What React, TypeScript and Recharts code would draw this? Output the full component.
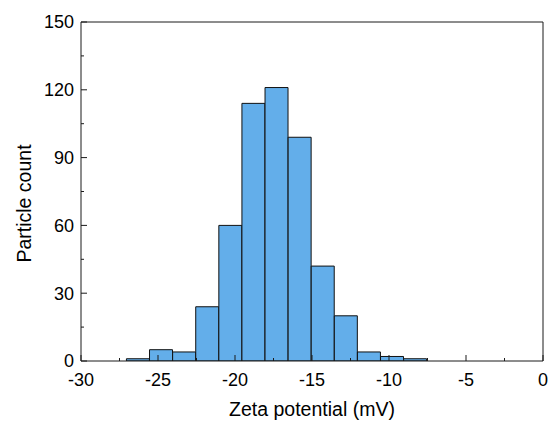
import { BarChart, Bar, XAxis, YAxis, ReferenceLine } from 'recharts'

// bin centres (mV) and particle counts per bin
const binCenters = [-26.3, -24.8, -23.3, -21.8, -20.3, -18.8, -17.3, -15.8, -14.3, -12.8, -11.3, -9.8, -8.3]
const counts = [1, 5, 4, 24, 60, 114, 121, 99, 42, 20, 4, 2, 1]

const xMajor = [-30, -25, -20, -15, -10, -5, 0]
const xMinor = [-27.5, -22.5, -17.5, -12.5, -7.5, -2.5]
const yMajor = [0, 30, 60, 90, 120, 150]
const yMinor = [15, 45, 75, 105, 135]

const data = binCenters.map((zeta, i) => ({ zeta, count: counts[i] }))

const FONT = 'Arial, "Liberation Sans", Helvetica, sans-serif'
const INK = '#1a1a1a'

const XTick = (props: any) => {
  const { x, y, payload } = props
  const major = xMajor.includes(payload.value)
  return (
    <g>
      <line x1={x} x2={x} y1={y} y2={y - (major ? 6 : 3)} stroke={INK} strokeWidth={1} />
      {major && (
        <text x={x} y={y + 25} textAnchor="middle" fontSize={18} fill="#000" fontFamily={FONT}>
          {payload.value}
        </text>
      )}
    </g>
  )
}

const YTick = (props: any) => {
  const { x, y, payload } = props
  const major = yMajor.includes(payload.value)
  return (
    <g>
      <line x1={x} x2={x + (major ? 6 : 3)} y1={y} y2={y} stroke={INK} strokeWidth={1} />
      {major && (
        <text x={x - 7} y={y} dy="0.36em" textAnchor="end" fontSize={18} fill="#000" fontFamily={FONT}>
          {payload.value}
        </text>
      )}
    </g>
  )
}

const YTitle = (props: any) => {
  const vb = props.viewBox || { x: 0, y: 0, height: 0 }
  const cx = vb.x + 31
  const cy = vb.y + vb.height / 2 + 12
  return (
    <text x={cx} y={cy} transform={`rotate(-90, ${cx}, ${cy})`} textAnchor="middle" fontSize={19.5} fill="#000" fontFamily={FONT}>
      Particle count
    </text>
  )
}

const XTitle = (props: any) => {
  const vb = props.viewBox || { x: 0, y: 0, width: 0 }
  return (
    <text x={vb.x + vb.width / 2} y={vb.y + 55} textAnchor="middle" fontSize={19.5} fill="#000" fontFamily={FONT}>
      Zeta potential (mV)
    </text>
  )
}

export default function App() {
  return (
    <div style={{ position: 'absolute', left: 0, top: 0, width: 553, height: 426, background: '#fff' }}>
      <BarChart
        width={553}
        height={426}
        data={data}
        margin={{ top: 22, right: 10, left: 0, bottom: 0 }}
        barCategoryGap={0}
        barGap={0}
      >
        <XAxis
          dataKey="zeta"
          type="number"
          domain={[-30, 0]}
          ticks={[...xMajor, ...xMinor]}
          interval={0}
          allowDataOverflow
          height={65}
          tickSize={0}
          tickMargin={0}
          tickLine={false}
          tick={<XTick />}
          axisLine={{ stroke: INK, strokeWidth: 1 }}
          label={{ content: <XTitle /> }}
        />
        <YAxis
          type="number"
          domain={[0, 150]}
          ticks={[...yMajor, ...yMinor]}
          interval={0}
          allowDataOverflow
          width={81}
          tickSize={0}
          tickMargin={0}
          tickLine={false}
          tick={<YTick />}
          axisLine={{ stroke: INK, strokeWidth: 1 }}
          label={{ content: <YTitle /> }}
        />
        <ReferenceLine y={150} stroke={INK} strokeWidth={1} />
        <ReferenceLine x={0} stroke={INK} strokeWidth={1} />
        <Bar dataKey="count" fill="#63AEEA" stroke="#111" strokeWidth={1} isAnimationActive={false} />
      </BarChart>
    </div>
  )
}
